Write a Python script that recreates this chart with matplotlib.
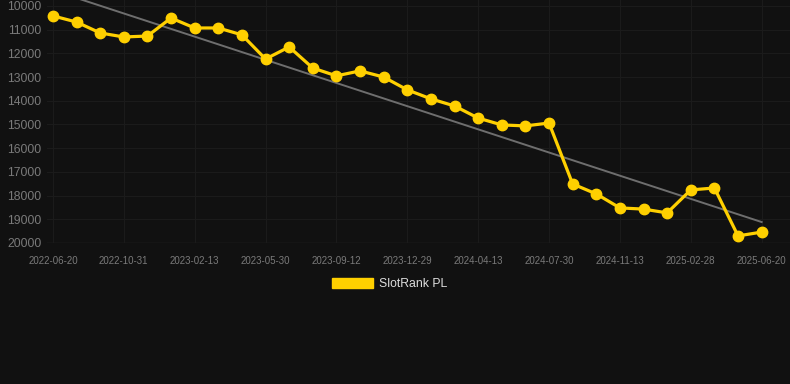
import numpy as np
import matplotlib
matplotlib.use("Agg")
import matplotlib.pyplot as plt
from matplotlib.patches import Patch

plt.rcParams['font.family'] = ['Liberation Sans', 'DejaVu Sans']

# rank values (lower is better, axis inverted)
ranks = [10420, 10680, 11140, 11310, 11270, 10510, 10930, 10930, 11220, 12240,
         11730, 12620, 12950, 12740, 13000, 13540, 13920, 14220, 14730, 15020,
         15060, 14940, 17510, 17930, 18520, 18570, 18730, 17760, 17680, 19700,
         19540]
tick_labels = ["2022-06-20", "2022-10-31", "2023-02-13", "2023-05-30", "2023-09-12",
               "2023-12-29", "2024-04-13", "2024-07-30", "2024-11-13", "2025-02-28",
               "2025-06-20"]
y_ticks = list(range(10000, 20001, 1000))
series_name = "SlotRank PL"

BG = "#111111"
GOLD = "#FFD000"

fig = plt.figure(figsize=(7.9, 3.84), dpi=100, facecolor=BG)
ax = fig.add_axes([47 / 790, 1 - 243 / 384, 1 - 47 / 790, 243 / 384])
ax.set_facecolor(BG)

x = np.arange(len(ranks))
# trend line (least squares fit of the series)
k, b = np.polyfit(x, ranks, 1)
ax.plot(x, k * x + b, color="#6e6e6e", lw=1.4, zorder=2)
ax.plot(x, ranks, color=GOLD, lw=2.3, marker="o", ms=7.5, zorder=3)

ax.set_xlim(-0.25, len(ranks) - 1 + 1.2)
ax.set_ylim(20000, 9750)
ax.set_yticks(y_ticks)
ax.set_xticks(x[::3])
ax.set_xticklabels(tick_labels)
ax.tick_params(axis="y", length=0, pad=4, labelsize=8.7, labelcolor="#7a7a7a")
ax.tick_params(axis="x", length=0, pad=9, labelsize=7, labelcolor="#7a7a7a")
ax.grid(True, color="#1b1b1b", lw=0.8)
for s in ax.spines.values():
    s.set_visible(False)
ax.axhline(20000, color="#262626", lw=1, zorder=1)

fig.legend(handles=[Patch(facecolor=GOLD, edgecolor=GOLD, label=series_name)],
           loc="center", bbox_to_anchor=(390 / 790, 1 - 284 / 384),
           frameon=False, fontsize=8.8, labelcolor="#dddddd",
           handlelength=3.3, handleheight=0.95, handletextpad=0.55)

fig.savefig("out.png", dpi=100, facecolor=BG)
